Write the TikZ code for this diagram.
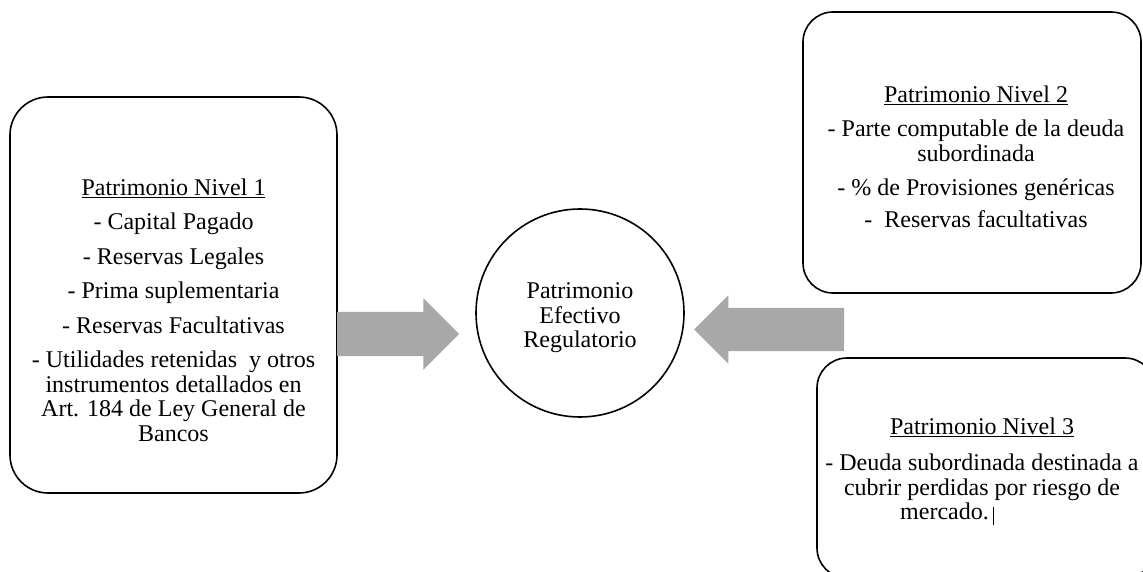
\documentclass[tikz,border=0pt]{standalone}
\usepackage{fontspec}
\setmainfont{Liberation Serif}
\usetikzlibrary{shapes.arrows}
\definecolor{arrowgray}{HTML}{A8A8A8}
\tikzset{
    level-box/.style = {draw, fill=white, line width=1.6pt, rectangle, rounded corners=30pt},
    level-text/.style = {align=center, inner sep=0pt, font=\fontsize{24}{24.5}\selectfont},
    total-circle/.style = {draw, fill=white, line width=1.6pt, circle, minimum size=208pt, inner sep=0pt},
    block-arrow/.style = {single arrow, fill=arrowgray, inner xsep=0pt, text height=0pt, text depth=0pt, minimum width=0pt},
}

\begin{document}
\begin{tikzpicture}[x=1pt, y=-1pt]
\useasboundingbox (0,0) rectangle (1143,572);
\node [level-box, rounded corners=38pt, minimum width=327pt, minimum height=396pt] (nivel1) at (173.5,295) {};
\node [level-box, minimum width=338pt, minimum height=281pt] (nivel2) at (972,152.5) {};
\node [level-box, minimum width=338pt, minimum height=220pt] (nivel3) at (986,468) {};
\node [total-circle] (per) at (580,313) {};

\node [level-text] (texto1) at (173.5,310) {\underline{Patrimonio Nivel 1}\\[10pt]
    - Capital Pagado\\[10pt]
    - Reservas Legales\\[10pt]
    - Prima suplementaria\\[10pt]
    - Reservas Facultativas\\[10pt]
    - Utilidades retenidas\ \ y otros\\
    instrumentos detallados en\\
    Art. 184 de Ley General de\\
    Bancos};
\node [level-text] (texto2) at (976,156.5) {\underline{Patrimonio Nivel 2}\\[10pt]
    - Parte computable de la deuda\\
    subordinada\\[10pt]
    - \% de Provisiones genéricas\\[7pt]
    -\ \ Reservas facultativas};
\node [level-text] (texto3) at (982,471) {\underline{Patrimonio Nivel 3}\\[12pt]
    - Deuda subordinada destinada a\\
    cubrir perdidas por riesgo de\\
    mercado.\,\rule[-5pt]{1pt}{18pt}\hspace*{70pt}};
\node [level-text] (textoper) at (580,318) {Patrimonio\\Efectivo\\Regulatorio};

\node [block-arrow, inner ysep=22pt, single arrow head extend=13.5pt, minimum height=122pt] (flecha1) at (387,334) {};
\node [block-arrow, inner ysep=21.5pt, single arrow head extend=12.5pt, minimum height=150pt, shape border rotate=180] (flecha2) at (780,329.5) {};
\end{tikzpicture}
\end{document}
